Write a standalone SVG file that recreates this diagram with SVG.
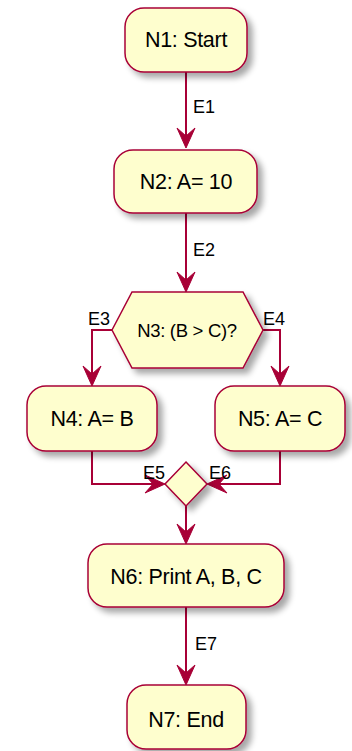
<svg xmlns="http://www.w3.org/2000/svg" width="352" height="751" viewBox="0 0 352 751">
  <style>
    .node { fill: #FEFECE; stroke: #A80036; stroke-width: 1.5; filter: url(#shadow); }
    .label { font-family: "Liberation Sans", Arial, sans-serif; font-size: 21.5px; letter-spacing: -0.3px; fill: #000000; text-anchor: middle; }
    .edge { fill: none; stroke: #A80036; stroke-width: 2; }
    .head { fill: #A80036; stroke: #A80036; stroke-width: 1; }
    .elabel { font-family: "Liberation Sans", Arial, sans-serif; font-size: 18px; fill: #000000; }
  </style>
  <defs>
    <filter id="shadow" x="-20%" y="-20%" width="150%" height="160%">
      <feGaussianBlur in="SourceAlpha" stdDeviation="3"/>
      <feOffset dx="5" dy="5" result="b"/>
      <feComponentTransfer><feFuncA type="linear" slope="0.35"/></feComponentTransfer>
      <feMerge><feMergeNode/><feMergeNode in="SourceGraphic"/></feMerge>
    </filter>
  </defs>
  <rect width="352" height="751" fill="#FFFFFF"/>

  <!-- connectors -->
  <g id="edges">
    <path class="edge" d="M186,72 L186,140"/>
    <polygon class="head" points="186,148 177,128 186,136 195,128"/>
    <text class="elabel" x="193" y="113">E1</text>

    <path class="edge" d="M186,213 L186,284"/>
    <polygon class="head" points="186,292 177,272 186,280 195,272"/>
    <text class="elabel" x="193" y="256">E2</text>

    <path class="edge" d="M112,330 L92,330 L92,378"/>
    <polygon class="head" points="92,386 83,366 92,374 101,366"/>
    <text class="elabel" x="88" y="325">E3</text>

    <path class="edge" d="M263,330 L280,330 L280,378"/>
    <polygon class="head" points="280,386 271,366 280,374 289,366"/>
    <text class="elabel" x="263" y="325">E4</text>

    <path class="edge" d="M92,451 L92,484 L158,484"/>
    <polygon class="head" points="165,484 145,475 153,484 145,493"/>
    <text class="elabel" x="143" y="479">E5</text>

    <path class="edge" d="M280,451 L280,484 L214,484"/>
    <polygon class="head" points="207,484 227,475 219,484 227,493"/>
    <text class="elabel" x="209" y="479">E6</text>

    <path class="edge" d="M186,506 L186,536"/>
    <polygon class="head" points="186,544 177,524 186,532 195,524"/>

    <path class="edge" d="M186,607 L186,677"/>
    <polygon class="head" points="186,685 177,665 186,673 195,665"/>
    <text class="elabel" x="195" y="650">E7</text>
  </g>

  <g id="N1">
    <rect class="node" x="125" y="8" width="122" height="64" rx="19" ry="19"/>
    <text class="label" x="186" y="47">N1: Start</text>
  </g>
  <g id="N2">
    <rect class="node" x="114" y="150" width="143" height="63" rx="19" ry="19"/>
    <text class="label" x="186" y="189">N2: A= 10</text>
  </g>
  <g id="N3">
    <polygon class="node" points="112,330 132,292 243,292 263,330 243,368 132,368"/>
    <text class="label" x="187" y="337" style="font-size:18.5px">N3: (B &gt; C)?</text>
  </g>
  <g id="N4">
    <rect class="node" x="27" y="386" width="130" height="65" rx="19" ry="19"/>
    <text class="label" x="92" y="426">N4: A= B</text>
  </g>
  <g id="N5">
    <rect class="node" x="215" y="386" width="130" height="65" rx="19" ry="19"/>
    <text class="label" x="280" y="426">N5: A= C</text>
  </g>
  <g id="merge">
    <polygon class="node" points="186,462 207,484 186,506 165,484"/>
  </g>
  <g id="N6">
    <rect class="node" x="88" y="544" width="196" height="63" rx="19" ry="19"/>
    <text class="label" x="186" y="584">N6: Print A, B, C</text>
  </g>
  <g id="N7">
    <rect class="node" x="127" y="685" width="119" height="64" rx="19" ry="19"/>
    <text class="label" x="186" y="727">N7: End</text>
  </g>
</svg>
